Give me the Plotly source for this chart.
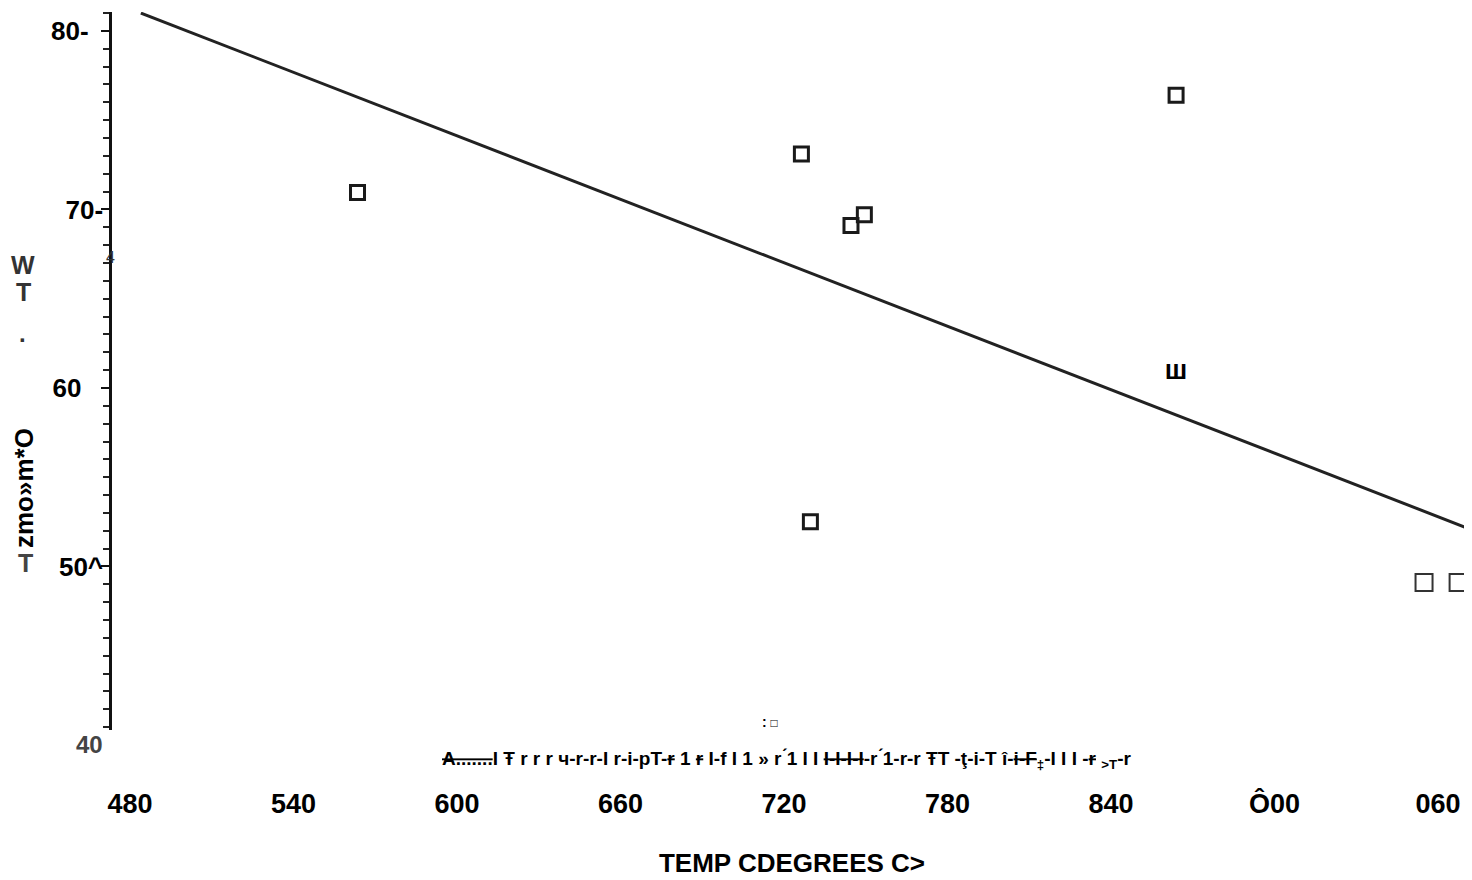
import plotly.graph_objects as go

# ---- data ----
temp_c = [563.5, 726.4, 744.6, 749.5, 729.7, 863.9]
wt_pct = [70.95, 73.1, 69.1, 69.7, 52.5, 76.4]

# points that came out of the scan as glyphs
glyph_x = [863.9]
glyph_y = [60.9]
glyph_txt = ["<b>ш</b>"]
faint_x = [954.9, 967.4]
faint_y = [49.1, 49.1]

fit_x = [484.0, 972.5]
fit_y = [81.0, 52.05]

x_tickvals = [480, 540, 600, 660, 720, 780, 840, 900, 960]
x_ticktext = ["480", "540", "600", "660", "720", "780", "840", "Ô00", "060"]
y_tickvals = [50, 60, 70, 80]
y_ticktext = ["50^", "60\u00a0\u00a0\u00a0", "70-", "80-\u00a0\u00a0"]

X_RANGE = [473.4, 972.5]
Y_RANGE = [40.84, 81.06]

INK = "#1a1a1a"
FONT = "Liberation Sans, Arial, sans-serif"

# page offset (body margin 8px)
W, H = 1464, 872
PL, PR, PT, PB = 112, 1472, 12, 730   # plot area in page pixels

fig = go.Figure()

fig.add_trace(go.Scatter(x=fit_x, y=fit_y, mode="lines",
                         line=dict(color="#222222", width=3), hoverinfo="skip"))
fig.add_trace(go.Scatter(x=temp_c, y=wt_pct, mode="markers",
                         marker=dict(symbol="square-open", size=14, color=INK,
                                     line=dict(width=3, color=INK))))
fig.add_trace(go.Scatter(x=faint_x, y=faint_y, mode="markers", cliponaxis=False,
                         marker=dict(symbol="square-open", size=17, color="#333333",
                                     line=dict(width=2, color="#333333"))))
fig.add_trace(go.Scatter(x=glyph_x, y=glyph_y, mode="text", text=glyph_txt,
                         textfont=dict(family=FONT, size=27, color="black"),
                         textposition="middle center"))

fig.update_layout(
    width=W, height=H,
    margin=dict(l=PL - 8, r=W - (PR - 8), t=PT - 8, b=H - (PB - 8)),
    paper_bgcolor="white", plot_bgcolor="white",
    showlegend=False,
    font=dict(family=FONT, color="black"),
)

fig.update_xaxes(
    range=X_RANGE, showgrid=False, zeroline=False, showline=False,
    tickmode="array", tickvals=x_tickvals, ticktext=x_ticktext,
    ticks="outside", ticklen=50, tickcolor="rgba(0,0,0,0)",
    tickfont=dict(family=FONT, size=27, color="black", weight="bold"),
    title=dict(text="<b>TEMP CDEGREES C></b>", standoff=35,
               font=dict(family=FONT, size=26, color="black")),
)

fig.update_yaxes(
    range=Y_RANGE, showgrid=False, zeroline=False,
    showline=True, linecolor="#111111", linewidth=2.5,
    tickmode="array", tickvals=y_tickvals, ticktext=y_ticktext,
    ticks="outside", ticklen=8, tickwidth=2, tickcolor="#111111",
    ticklabelstandoff=-7,
    minor=dict(dtick=1, tick0=40, ticks="outside", ticklen=6, tickwidth=2,
               tickcolor="#222222", showgrid=False),
    tickfont=dict(family=FONT, size=26, color="black", weight="bold"),
)

# scanned text fragments
garbled = ("<s>A.......</s>I Ŧ r r r ч-r-r-I r-i-pT-<s>r</s> 1 <s>r</s> I-f I 1 » r ́1 I I "
           "<s>I-I-I-I</s>-r ́1-r-r ŦT -ţ-i-T î-<s>i-F</s><sub>‡</sub>-I I I -<s>r</s> "
           "<sub>&gt;T</sub>-r")
ann = [
    dict(x=786, y=760, text="<b>" + garbled + "</b>", font=dict(size=19, color="black")),
    dict(x=770, y=722, text="<b>:</b> <span style='font-size:12px'>□</span>",
         font=dict(size=14, color="black")),
    dict(x=89, y=745, text="<b>40</b>", font=dict(size=24, color="#444444")),
    dict(x=110, y=258, text="4", font=dict(size=16, color="#333333")),
    dict(x=23, y=265, text="<b>W</b>", font=dict(size=25, color="#333333")),
    dict(x=23, y=292, text="<b>T</b>", font=dict(size=25, color="#333333")),
    dict(x=22, y=333, text="<b>.</b>", font=dict(size=24, color="#333333")),
    dict(x=24, y=488, text="<b>zmo»m*O</b>", textangle=-90,
         font=dict(size=26, color="black")),
    dict(x=25, y=563, text="<b>T</b>", font=dict(size=25, color="#444444")),
]
for a in ann:
    fig.add_annotation(xref="paper", yref="paper",
                       x=(a["x"] - PL) / (PR - PL),
                       y=1 - (a["y"] - PT) / (PB - PT),
                       text=a["text"], showarrow=False,
                       xanchor="center", yanchor="middle",
                       textangle=a.get("textangle", 0),
                       font=dict(family=FONT, **a["font"]))

fig.write_html("out.html")
